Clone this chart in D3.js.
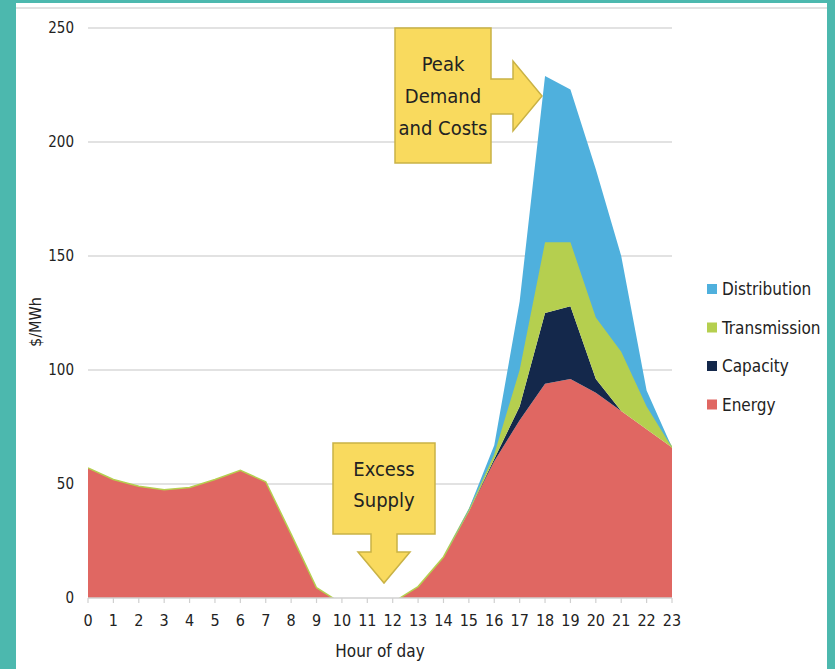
<!DOCTYPE html>
<html>
<head>
<meta charset="utf-8">
<script src="https://cdn.jsdelivr.net/npm/d3@7"></script>
<style>
  body { margin: 0; background: #4cb8ae; }
  svg { display: block; }
  text { font-family: "Liberation Sans Narrow", "DejaVu Sans Condensed", "Open Sans", sans-serif; fill: #222; }
</style>
</head>
<body>
<svg id="chart" width="835" height="669"></svg>
<script>
const hours = d3.range(0, 24);
const yTicks = [0, 50, 100, 150, 200, 250];
// $/MWh per hour (energy dips slightly below zero midday, clipped at 0)
const energy       = [57, 52, 49, 47.5, 48.5, 52, 56, 51, 28, 4.5, -2.5, -3, -2, 5, 18, 38, 60, 78, 94, 96, 90, 82, 74, 66];
const capacity     = [0, 0, 0, 0, 0, 0, 0, 0, 0, 0, 0, 0, 0, 0, 0, 0, 1, 6, 31, 32, 6, 0, 0, 0];
const transmission = [0, 0, 0, 0, 0, 0, 0, 0, 0, 0, 0, 0, 0, 0, 0, 0.5, 2, 16, 31, 28, 27, 26, 10, 0];
const distribution = [0, 0, 0, 0, 0, 0, 0, 0, 0, 0, 0, 0, 0, 0, 0, 0.5, 4, 30, 73, 67, 65, 42, 7, 0];
const seriesNames = ['Energy', 'Capacity', 'Transmission', 'Distribution'];
const colors = ['#e06762', '#14284b', '#b5cf4f', '#4fb0dd'];

const svg = d3.select('#chart');

// white panel on teal background
svg.append('rect').attr('x', 16).attr('y', 3).attr('width', 811).attr('height', 666).attr('fill', '#fff');
svg.append('line').attr('x1', 16).attr('x2', 827).attr('y1', 8).attr('y2', 8)
  .attr('stroke', '#d8d8d8').attr('stroke-width', 1.5);

const x = d3.scaleLinear().domain([0, 23]).range([88, 672]);
const y = d3.scaleLinear().domain([0, 250]).range([598, 28]);

// gridlines
svg.append('g').selectAll('line')
  .data(yTicks.filter(d => d > 0))
  .join('line')
  .attr('x1', x(0)).attr('x2', x(23))
  .attr('y1', d => y(d)).attr('y2', d => y(d))
  .attr('stroke', '#d9d9d9').attr('stroke-width', 1.5);

// stacked areas
const table = hours.map((h, i) => ({
  hour: h, Energy: energy[i], Capacity: capacity[i], Transmission: transmission[i], Distribution: distribution[i]
}));
const stacked = d3.stack().keys(seriesNames)(table);

svg.append('defs').append('clipPath').attr('id', 'plot')
  .append('rect').attr('x', x(0)).attr('y', y(250)).attr('width', x(23) - x(0)).attr('height', y(0) - y(250));

const area = d3.area()
  .x(d => x(d.data.hour))
  .y0(d => y(d[0]))
  .y1(d => y(d[1]));
const baseArea = d3.area()
  .x(d => x(d.data.hour))
  .y0(y(0))
  .y1(d => y(d[1]));

const areaGroup = svg.append('g').attr('clip-path', 'url(#plot)');
stacked.forEach((layer, i) => {
  areaGroup.append('path')
    .datum(layer)
    .attr('fill', colors[i])
    .attr('d', i === 0 ? baseArea(layer) : area(layer));
  if (i === 2) {
    // thin green edge on top of the transmission stack
    areaGroup.append('path')
      .datum(layer)
      .attr('fill', 'none')
      .attr('stroke', '#b5cf4f')
      .attr('stroke-width', 1.5)
      .attr('d', d3.line().x(d => x(d.data.hour)).y(d => y(d[1])));
  }
});

// x axis
svg.append('line').attr('x1', x(0)).attr('x2', x(23)).attr('y1', y(0)).attr('y2', y(0))
  .attr('stroke', '#d0d0d0').attr('stroke-width', 1.5);
svg.append('g').selectAll('line')
  .data(hours)
  .join('line')
  .attr('x1', d => x(d)).attr('x2', d => x(d))
  .attr('y1', y(0)).attr('y2', y(0) + 5)
  .attr('stroke', '#d0d0d0').attr('stroke-width', 1.2);
svg.append('g').selectAll('text')
  .data(hours)
  .join('text')
  .attr('x', d => x(d)).attr('y', 626)
  .attr('text-anchor', 'middle')
  .attr('font-size', 16)
  .text(d => d);

svg.append('text').attr('x', 380).attr('y', 657).attr('text-anchor', 'middle')
  .attr('font-size', 17).text('Hour of day');

// y axis labels
svg.append('g').selectAll('text')
  .data(yTicks)
  .join('text')
  .attr('x', 74).attr('y', d => y(d) + 5)
  .attr('text-anchor', 'end')
  .attr('font-size', 15)
  .text(d => d);

svg.append('text')
  .attr('transform', 'translate(41,322) rotate(-90)')
  .attr('text-anchor', 'middle')
  .attr('font-size', 16)
  .text('$/MWh');

// legend
const legendItems = ['Distribution', 'Transmission', 'Capacity', 'Energy'];
const legendColors = ['#4fb0dd', '#b5cf4f', '#14284b', '#e06762'];
const legend = svg.append('g').selectAll('g')
  .data(legendItems)
  .join('g')
  .attr('transform', (d, i) => `translate(707,${289 + i * 38.5})`);
legend.append('rect').attr('x', 0).attr('y', -5).attr('width', 10).attr('height', 10)
  .attr('fill', (d, i) => legendColors[i]);
legend.append('text').attr('x', 15).attr('y', 6).attr('font-size', 17).text(d => d);

// annotations
const boxFill = '#f9da5e', boxStroke = '#c9b245';

const peak = d3.path();
peak.moveTo(395, 28); peak.lineTo(491, 28); peak.lineTo(491, 79);
peak.lineTo(513, 79); peak.lineTo(513, 61); peak.lineTo(542, 96);
peak.lineTo(513, 131); peak.lineTo(513, 114); peak.lineTo(491, 114);
peak.lineTo(491, 163); peak.lineTo(395, 163); peak.closePath();
svg.append('path').attr('d', peak.toString())
  .attr('fill', boxFill).attr('stroke', boxStroke).attr('stroke-width', 1.5);
['Peak', 'Demand', 'and Costs'].forEach((t, i) => {
  svg.append('text').attr('x', 443).attr('y', 71 + i * 32)
    .attr('text-anchor', 'middle').attr('font-size', 20).text(t);
});

const excess = d3.path();
excess.moveTo(333, 443); excess.lineTo(435, 443); excess.lineTo(435, 534);
excess.lineTo(397, 534); excess.lineTo(397, 552); excess.lineTo(410, 552);
excess.lineTo(384, 583); excess.lineTo(358, 552); excess.lineTo(371, 552);
excess.lineTo(371, 534); excess.lineTo(333, 534); excess.closePath();
svg.append('path').attr('d', excess.toString())
  .attr('fill', boxFill).attr('stroke', boxStroke).attr('stroke-width', 1.5);
['Excess', 'Supply'].forEach((t, i) => {
  svg.append('text').attr('x', 384).attr('y', 476 + i * 31)
    .attr('text-anchor', 'middle').attr('font-size', 20).text(t);
});
</script>
</body>
</html>
